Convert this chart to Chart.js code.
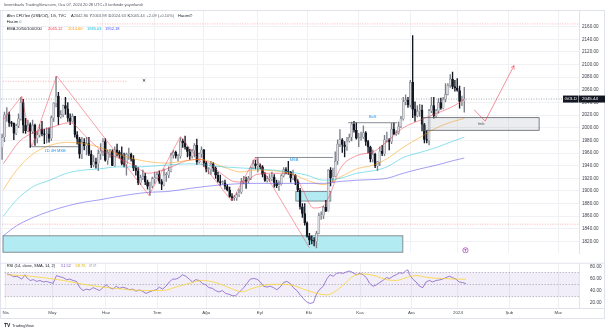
<!DOCTYPE html>
<html><head><meta charset="utf-8">
<title>GOLD 1G</title>
<script src="https://cdn.jsdelivr.net/npm/chart.js@4.4.1/dist/chart.umd.min.js"></script>
<style>
html,body{margin:0;padding:0;background:#fff}
body{width:605px;height:332px;position:relative;overflow:hidden;font-family:"Liberation Sans",Arial,sans-serif}
canvas{position:absolute;left:0}
#c1{top:0}
#c2{top:258px}
#frame{position:absolute;left:0;top:10px;width:603px;height:307px;border:1px solid #e0e3eb}
.t{position:absolute;white-space:nowrap;font-size:4px;line-height:5px;color:#131722}
</style></head><body>
<div id="frame"></div>
<canvas id="c1" width="605" height="259"></canvas>
<canvas id="c2" width="605" height="62"></canvas>

<div class="t" style="left:4px;top:2px;color:#50535e">leventbuzlu TradingView.com, Oca 07, 2024 20:28 UTC+3 tarihinde yayınlandı</div>
<div class="t" style="left:6.7px;top:12.5px">Altın CFD'leri (US$/OZ), 1G, TVC</div>
<div class="t" style="left:71px;top:12.5px">A<span style="color:#5d606b">2042.80</span></div>
<div class="t" style="left:89.5px;top:12.5px">Y<span style="color:#5d606b">2063.98</span></div>
<div class="t" style="left:108.5px;top:12.5px">D<span style="color:#5d606b">2024.63</span></div>
<div class="t" style="left:127.5px;top:12.5px">K<span style="color:#5d606b">2045.44</span></div>
<div class="t" style="left:146.5px;top:12.5px;color:#5d606b">+2.09 (+0.10%)</div>
<div class="t" style="left:178px;top:12.5px">Hacim∅</div>
<div class="t" style="left:6.7px;top:18.5px">Hacim <span style="color:#26a69a">0</span></div>
<div class="t" style="left:6.7px;top:25.8px">EMA 20/50/100/200</div>
<div class="t" style="left:48px;top:25.8px;color:#f23645">2045.12</div>
<div class="t" style="left:68px;top:25.8px;color:#ff9800">2014.60</div>
<div class="t" style="left:87px;top:25.8px;color:#00bcd4">1985.03</div>
<div class="t" style="left:105px;top:25.8px;color:#3f51ff">1952.18</div>
<div class="t" style="left:6.7px;top:263px">RSI (14, close, SMA, 14, 2)</div>
<div class="t" style="left:61px;top:263px;color:#7e57c2">51.52</div>
<div class="t" style="left:75.5px;top:263px;color:#e0b400">58.76</div>
<div class="t" style="left:89px;top:263px;color:#787b86">∅ ∅</div>
<div class="t" style="left:4px;top:323px;font-weight:bold;font-size:5px">TV</div>
<div class="t" style="left:12px;top:323px;color:#2a2e39">TradingView</div>

<script>
// ---- candles (TVC GOLD, daily) Apr 3 2023 .. Jan 5 2024, index = trading bar ----
const open = [
1969,1985,2020,2021,2008,2007,1991,2003,2014,2040,2004,1995,2005,1994,2004,1983,1989,1998,1990,1989,
1990,1983,2016,2039,2050,2017,2021,2035,2030,2015,2010,2018,1989,1982,1958,1977,1971,1975,1958,1941,1946,1943,1959,
1963,1978,1948,1961,1963,1940,1965,1961,1957,1943,1942,1958,1958,1950,1936,1932,1913,1921,1923,1914,1907,1908,
1919,1921,1926,1915,1910,1925,1925,1932,1957,1961,1955,1955,1979,1976,1969,1962,1955,1964,1972,1946,1959,
1965,1944,1934,1934,1943,1936,1925,1915,1913,1913,1907,1901,1891,1889,1889,1894,1898,1915,1917,1915,1920,1937,1943,
1940,1940,1938,1926,1916,1919,1919,1922,1913,1908,1910,1924,1934,1931,1930,1920,1925,1915,1901,1875,1864,
1849,1828,1822,1821,1820,1833,1861,1861,1874,1868,1933,1920,1923,1947,1974,1981,1973,1970,1979,1985,2006,1996,
1983,1983,1985,1992,1978,1969,1950,1958,1940,1946,1963,1959,1981,1981,1978,1998,1990,1992,2002,2014,2041,2044,
2036,2072,2029,2019,2026,2028,2005,1981,1980,2027,2035,2019,2027,2040,2031,2045,2053,2067,2077,2065,
2063,2059,2041,2042.80];
const high = [
1990,2025,2032,2025,2010,2008,2006,2022,2048,2045,2015,2012,2008,2012,2006,1994,2005,2010,1998,2000,
2000,2019,2040,2081,2056,2027,2036,2048,2040,2022,2022,2018,1994,1985,1985,1983,1985,1985,1964,1956,1952,1965,1975,
1983,1983,1965,1966,1965,1970,1974,1964,1970,1960,1960,1968,1960,1956,1940,1937,1925,1933,1928,1917,1914,1922,
1930,1930,1932,1918,1935,1929,1938,1960,1964,1963,1958,1984,1982,1987,1970,1966,1966,1975,1982,1960,1970,
1966,1947,1937,1947,1945,1938,1930,1925,1916,1917,1910,1906,1896,1893,1897,1903,1920,1923,1922,1923,1938,1949,1949,
1953,1943,1940,1929,1923,1926,1930,1926,1917,1916,1926,1937,1937,1947,1931,1933,1926,1918,1904,1880,1880,
1851,1833,1829,1826,1836,1865,1867,1876,1885,1934,1937,1936,1962,1981,1997,1983,1978,1985,1990,2009,2010,2008,
1991,1993,2003,1994,1980,1971,1965,1960,1947,1970,1972,1988,1993,1983,2007,2008,1995,2009,2018,2048,2052,2048,
2075,2146,2041,2035,2037,2036,2007,1996,2029,2048,2048,2029,2046,2047,2048,2070,2070,2084,2088,2075,
2078,2066,2050,2063.98];
const low = [
1950,1978,2010,2002,2002,1981,1989,2000,2012,1992,1991,1994,1969,1991,1972,1976,1985,1987,1975,1976,
1977,1980,2010,2033,2005,2015,2017,2021,2010,2005,2009,1985,1974,1952,1951,1965,1957,1956,1937,1938,1936,1932,1950,
1956,1947,1942,1953,1940,1939,1955,1952,1941,1938,1925,1950,1947,1932,1925,1910,1910,1918,1910,1903,1893,1905,
1912,1919,1912,1902,1908,1915,1921,1930,1952,1952,1947,1952,1969,1966,1954,1950,1952,1954,1942,1944,1953,
1939,1930,1927,1926,1931,1920,1914,1909,1911,1903,1900,1890,1885,1885,1885,1891,1896,1911,1904,1913,1918,1935,1935,
1930,1935,1922,1915,1914,1915,1916,1906,1905,1901,1909,1922,1927,1926,1914,1918,1910,1899,1871,1858,1846,
1827,1815,1816,1813,1810,1832,1855,1856,1867,1868,1908,1914,1922,1942,1970,1961,1954,1964,1977,1979,1993,1982,
1970,1980,1983,1972,1960,1946,1946,1937,1932,1940,1956,1956,1977,1965,1975,1989,1988,1990,2000,2012,2036,2032,
2033,2016,2010,2017,2018,1995,1976,1976,1973,2024,2015,2016,2023,2029,2030,2041,2052,2064,2062,2058,
2058,2031,2035,2024.63];
const close = [
1985,2020,2021,2008,2007,1991,2003,2014,2040,2004,1995,2005,1994,2004,1983,1989,1998,1990,1989,1990,
1983,2016,2039,2050,2017,2021,2035,2030,2015,2010,2018,1989,1982,1958,1977,1971,1975,1958,1941,1946,1943,1959,1963,
1978,1948,1961,1963,1940,1965,1961,1957,1943,1942,1958,1958,1950,1936,1932,1913,1921,1923,1914,1907,1908,1919,
1921,1926,1915,1910,1925,1925,1932,1957,1961,1955,1955,1979,1976,1969,1962,1955,1964,1972,1946,1959,1965,
1944,1934,1934,1943,1936,1925,1915,1913,1913,1907,1901,1891,1889,1889,1894,1898,1915,1917,1915,1920,1937,1943,1940,
1940,1938,1926,1916,1919,1919,1922,1913,1908,1910,1924,1934,1931,1930,1920,1925,1915,1901,1875,1864,1849,
1828,1822,1821,1820,1833,1861,1861,1874,1868,1933,1920,1923,1947,1974,1981,1973,1970,1979,1985,2006,1996,1983,
1983,1985,1992,1978,1969,1950,1958,1940,1946,1963,1959,1981,1981,1978,1998,1990,1992,2002,2014,2041,2044,2036,
2072,2029,2019,2026,2028,2005,1981,1980,2027,2035,2019,2027,2040,2031,2045,2053,2067,2077,2065,2063,
2059,2041,2043,2045.44];

// ---- EMA readings [bar index, price] ----
const ema20 = [[0.5,1943],[7.6,1979],[13.3,1992],[20.4,2000],[28.9,2008],[36,1985],[41.7,1966],[48.9,1953],[55.9,1941],[62.3,1928],[70.2,1935],[78.7,1948],[84.4,1950],[94.3,1925],[98.6,1915],[102.8,1914],[108.5,1926],[115.6,1928],[122.7,1928],[125.6,1920],[128.4,1900],[132.7,1873],[136.9,1876],[139.8,1895],[144.1,1935],[151.2,1956],[158.3,1962],[164,1978],[171,2000],[178.2,2012],[185.3,2023],[192.3,2034],[197,2045.12]];
const ema50 = [[0.5,1902],[6.2,1933],[13.3,1959],[20.4,1972],[27.5,1977],[34.6,1975],[41.7,1969],[48.9,1959],[55.9,1951],[63,1946],[70.2,1944],[78.7,1948],[84.4,1950],[94.3,1938],[101.4,1930],[108.5,1933],[115.6,1932],[122.7,1928],[129.9,1917],[136.9,1910],[144.1,1922],[151.2,1935],[158.3,1941],[164,1951],[171,1969],[178.2,1985],[185.3,2000],[192.3,2010],[197,2014.6]];
const ema100 = [[0.5,1860],[6.2,1886],[13.3,1907],[20.4,1917],[27.5,1928],[34.6,1933],[41.7,1935],[48.9,1938],[55.9,1938],[63,1939],[70.2,1941],[80.1,1943],[94.3,1938],[108.5,1935],[122.7,1930],[129.9,1925],[136.9,1917],[144.1,1920],[151.2,1928],[158.3,1932],[164,1938],[171,1953],[178.2,1961],[185.3,1969],[192.3,1979],[197,1985.03]];
const ema200 = [[0.5,1829],[6.2,1845],[13.3,1858],[20.4,1868],[27.5,1876],[34.6,1882],[41.7,1886],[48.9,1891],[55.9,1895],[63,1898],[70.2,1899],[80.1,1904],[94.3,1910],[108.5,1912],[122.7,1912],[136.9,1912],[144.1,1915],[151.2,1917],[158.3,1918],[164,1920],[171,1928],[178.2,1935],[185.3,1941],[192.3,1948],[197,1952.18]];

// ---- RSI readings [bar index, value] ----
const rsi = [[0.5,67.6],[2,66.2],[3.4,62.9],[4.8,63.8],[6.9,59],[8.3,66.2],[9,61.4],[10.5,56.7],[11.9,58.1],[13.3,55.2],[14.7,56.7],[16.2,54.3],[17.6,55.2],[19,53.3],[20.4,51.9],[21.1,59],[21.8,64.8],[23.3,62.9],[24.7,61.4],[26.1,58.1],[27.5,59],[28.9,56.7],[30.4,55.2],[31.8,44.8],[33.2,40],[34.6,42.4],[36.1,41],[37.5,44.8],[38.9,42.4],[40.3,40],[41.7,44.8],[43.1,49.5],[44.6,44.8],[46,42.4],[47.4,47.1],[48.9,43.8],[50.3,45.7],[51.7,43.8],[53.1,41.4],[54.5,42.4],[55.9,39],[57.4,41],[58.8,38.6],[60.2,35.2],[61.6,37.6],[63.1,40],[64.5,41],[65.9,45.7],[67.3,42.4],[68.7,47.1],[70.2,54.3],[71.6,59],[73,59],[74.4,61.4],[75.8,66.2],[77.3,63.8],[78.7,59],[80.1,54.3],[81.5,58.1],[83,56.7],[84.4,51.9],[85.8,49.5],[87.2,44.8],[88.6,43.8],[90,40],[91.5,37.6],[92.9,40],[94.3,35.2],[95.8,33.8],[97.2,31.4],[98.6,31.4],[100,36.5],[101.4,42],[102.1,44.8],[103.5,51.9],[104.9,59],[106.4,60],[107.8,59],[109.2,54.3],[110.6,47.1],[112.1,45.7],[113.5,47.1],[114.9,44.8],[116.3,41.4],[117.7,45.7],[119.2,53.3],[120.6,55.2],[122,51.9],[123.4,44.8],[124.9,40],[126.3,32.9],[127.7,26.7],[129.1,21],[130.5,18.6],[132,20],[133.4,35.2],[134.8,42.4],[136.2,47.1],[137.7,59],[139.1,66.2],[140.5,63.8],[141.9,68.6],[143.3,69.5],[144.8,68.6],[146.2,71],[147.6,72.4],[149,69.5],[150.5,66.2],[151.9,68.6],[153.3,66.2],[154.7,61.4],[156.1,51.9],[157.6,47.1],[159,49.5],[160.4,53.3],[161.8,56.7],[163.3,61.4],[164.7,60],[166.1,63.8],[167.5,66.2],[168.9,69.5],[170.4,68.6],[171.8,73.3],[172.5,74.3],[173.2,66.2],[174.6,59],[176,54.3],[177.5,47.1],[178.9,44.8],[180.3,54.3],[181.7,56.7],[183.1,54.3],[184.6,56.7],[186,57.6],[187.4,59],[188.8,61.4],[190.3,63.8],[191.7,61.4],[193.1,59],[194.5,54.3],[195.9,53.3],[197.4,51.52]];
const rsiSma = [[0.5,66.2],[7.6,64.8],[16.2,61.4],[24.7,56.7],[33.2,50.5],[41.7,45.7],[50.3,42.4],[58.8,40],[67.3,40],[73,45.7],[78.7,51.9],[84.4,56.7],[90,53.3],[95.8,44.8],[101.5,38],[104.9,42.4],[110.6,48.6],[116.3,50.5],[122,49.5],[127.7,42.4],[133.4,35.2],[137.7,32.9],[141.9,40],[146.2,54.3],[149,63.8],[153.3,67.6],[159,63.8],[163.3,58.1],[167.5,56.7],[171.8,61.4],[176,64.8],[181.7,61.4],[187.4,60],[193.1,59],[197.4,58.76]];
const rsiLevels = [70, 50, 30];

// ---- axis labels ----
const monthIdx = [0,20,43,65,86,109,130,152,174,194,216,237];
const monthLbl = ['Nis','May','Haz','Tem','Ağu','Eyl','Eki','Kas','Ara','2024','Şub','Mar'];
const priceTicks = [1820,1840,1860,1880,1900,1920,1940,1960,1980,2000,2020,2040,2060,2080,2100,2120,2140,2160];
const rsiTicks = [20,40,60,80];

// ---- drawings [bar index, price] ----
const zigzag = [[0.5,2013],[8.4,2050],[12.6,1970],[23.3,2082],[62.6,1893],[76,1986],[97.9,1884],[108,1953],[131,1810]];
const cyanBoxes = [[0.4,170.8,1829,1803],[125.2,140.1,1899,1884]];
const imbBox = [179.4,228.9,2016,1996];
const structLines = [ // [from, to, price, label, labelPrice]
  [12.6,32.5,1970,'1D 4H MSB',1963],
  [107.8,141.1,1953,'MSB',1948.5],
  [147.5,168.4,2008,'BoS',2016.5]];
const redDotted = [[40.5,246,2164.3],[0.4,53.7,2073.5],[-1,246,1847.4]];
const crossMark = [60.5,2075];
const arrowPath = [[201.2,2028.5],[205.9,2010.5],[218.2,2098.4]];
const eventMark = [197.5,1806];
const lastPrice = 2045.44;
const symbol = 'GOLD';

const X_MIN = -0.47, X_MAX = 245.9;
const FONT = '"Liberation Sans", Arial, sans-serif';

const N = open.length;
const wick = [], body = [], wickCol = [], bodyCol = [], bodyBorder = [];
for (let i = 0; i < N; i++) {
  wick.push({x: i, y: [low[i], high[i]]});
  body.push({x: i, y: [open[i], close[i]]});
  const up = close[i] >= open[i];
  wickCol.push(up ? '#7b7e88' : '#131722');
  bodyCol.push(up ? '#dcdde2' : '#131722');
  bodyBorder.push(up ? '#70737d' : '#131722');
}
const toXY = a => a.map(p => ({x: p[0], y: p[1]}));

const annot = {
  id: 'annot',
  beforeDatasetsDraw(chart) {
    const {ctx, chartArea: a, scales: {x, y}} = chart;
    ctx.save();
    ctx.beginPath(); ctx.rect(a.left, a.top, a.right - a.left, a.bottom - a.top); ctx.clip();
    for (const b of cyanBoxes) {
      const x0 = x.getPixelForValue(b[0]), x1 = x.getPixelForValue(b[1]);
      const y0 = y.getPixelForValue(b[2]), y1 = y.getPixelForValue(b[3]);
      ctx.fillStyle = '#b2ebf2'; ctx.fillRect(x0, y0, x1 - x0, y1 - y0);
      ctx.strokeStyle = '#7d828c'; ctx.lineWidth = 0.9; ctx.strokeRect(x0, y0, x1 - x0, y1 - y0);
    }
    ctx.lineWidth = 0.7;
    ctx.setLineDash([1, 1.5]);
    for (const l of redDotted) {
      const yy = y.getPixelForValue(l[2]);
      ctx.strokeStyle = 'rgba(242,54,69,0.55)';
      ctx.beginPath(); ctx.moveTo(x.getPixelForValue(l[0]), yy); ctx.lineTo(x.getPixelForValue(l[1]), yy); ctx.stroke();
    }
    const yl = y.getPixelForValue(lastPrice);
    ctx.strokeStyle = 'rgba(80,83,94,0.7)';
    ctx.beginPath(); ctx.moveTo(a.left, yl); ctx.lineTo(a.right, yl); ctx.stroke();
    ctx.setLineDash([]);
    ctx.restore();
  },
  afterDatasetsDraw(chart) {
    const {ctx, chartArea: a, scales: {x, y}} = chart;
    const px = v => x.getPixelForValue(v), py = v => y.getPixelForValue(v);
    ctx.save();
    ctx.beginPath(); ctx.rect(a.left, a.top, a.right - a.left, a.bottom - a.top); ctx.clip();
    ctx.strokeStyle = 'rgba(242,54,69,0.6)'; ctx.lineWidth = 0.8;
    ctx.beginPath();
    zigzag.forEach((p, k) => { k ? ctx.lineTo(px(p[0]), py(p[1])) : ctx.moveTo(px(p[0]), py(p[1])); });
    ctx.stroke();
    ctx.font = '4px ' + FONT; ctx.textAlign = 'center'; ctx.textBaseline = 'middle';
    for (const s of structLines) {
      ctx.strokeStyle = '#6a6d78'; ctx.lineWidth = 0.8;
      ctx.beginPath(); ctx.moveTo(px(s[0]), py(s[2])); ctx.lineTo(px(s[1]), py(s[2])); ctx.stroke();
      ctx.fillStyle = '#2196f3';
      ctx.fillText(s[3], px((s[0] + s[1]) / 2), py(s[4]));
    }
    {
      const x0 = px(imbBox[0]), x1 = px(imbBox[1]), y0 = py(imbBox[2]), y1 = py(imbBox[3]);
      ctx.fillStyle = 'rgba(150,155,165,0.18)'; ctx.fillRect(x0, y0, x1 - x0, y1 - y0);
      ctx.strokeStyle = '#5d606b'; ctx.lineWidth = 0.8; ctx.strokeRect(x0, y0, x1 - x0, y1 - y0);
      ctx.fillStyle = '#5d606b';
      ctx.fillText('Imb', (x0 + x1) / 2, (y0 + y1) / 2);
    }
    ctx.strokeStyle = 'rgba(242,54,69,0.7)'; ctx.lineWidth = 0.8;
    ctx.beginPath();
    arrowPath.forEach((p, k) => { k ? ctx.lineTo(px(p[0]), py(p[1])) : ctx.moveTo(px(p[0]), py(p[1])); });
    ctx.stroke();
    {
      const n = arrowPath.length, t = arrowPath[n - 1], s = arrowPath[n - 2];
      const tx = px(t[0]), ty = py(t[1]);
      const ang = Math.atan2(ty - py(s[1]), tx - px(s[0]));
      ctx.beginPath();
      ctx.moveTo(tx - 4 * Math.cos(ang - 0.5), ty - 4 * Math.sin(ang - 0.5));
      ctx.lineTo(tx, ty);
      ctx.lineTo(tx - 4 * Math.cos(ang + 0.5), ty - 4 * Math.sin(ang + 0.5));
      ctx.stroke();
    }
    {
      const cx = px(crossMark[0]), cy = py(crossMark[1]);
      ctx.strokeStyle = '#131722'; ctx.lineWidth = 0.7;
      ctx.beginPath(); ctx.moveTo(cx - 1.2, cy - 1.2); ctx.lineTo(cx + 1.2, cy + 1.2);
      ctx.moveTo(cx + 1.2, cy - 1.2); ctx.lineTo(cx - 1.2, cy + 1.2); ctx.stroke();
    }
    {
      const cx = px(eventMark[0]), cy = py(eventMark[1]);
      ctx.strokeStyle = '#ab47bc'; ctx.lineWidth = 0.8;
      ctx.beginPath(); ctx.arc(cx, cy, 2.6, 0, Math.PI * 2); ctx.stroke();
      ctx.beginPath(); ctx.moveTo(cx, cy + 1.3); ctx.lineTo(cx, cy - 1.3); ctx.moveTo(cx - 1, cy - 0.3); ctx.lineTo(cx, cy - 1.3); ctx.lineTo(cx + 1, cy - 0.3); ctx.stroke();
    }
    ctx.restore();
  },
  afterDraw(chart) {
    const {ctx, chartArea: a, scales: {y}} = chart;
    const yy = y.getPixelForValue(lastPrice);
    ctx.save();
    ctx.fillStyle = '#131722';
    ctx.fillRect(a.right - 16, yy - 3.5, 15.5, 7);
    ctx.fillRect(a.right, yy - 3.5, chart.width - a.right, 7);
    ctx.fillStyle = '#fff'; ctx.font = '4.4px ' + FONT; ctx.textBaseline = 'middle'; ctx.textAlign = 'left';
    ctx.fillText(symbol, a.right - 14.5, yy + 0.2);
    ctx.fillText(lastPrice.toFixed(2), a.right + 3, yy + 0.2);
    ctx.restore();
  }
};

const emaDs = (arr, col) => ({type: 'line', data: toXY(arr), borderColor: col, borderWidth: 1, pointRadius: 0,
  cubicInterpolationMode: 'monotone', order: 0});

new Chart(document.getElementById('c1'), {
  type: 'bar',
  data: {datasets: [
    emaDs(ema200, 'rgba(90,80,235,0.55)'),
    emaDs(ema100, 'rgba(0,188,212,0.45)'),
    emaDs(ema50, 'rgba(255,152,0,0.5)'),
    emaDs(ema20, 'rgba(242,54,69,0.5)'),
    {type: 'bar', data: body, backgroundColor: bodyCol, borderColor: bodyBorder, borderWidth: 0.5,
      barThickness: 2, grouped: false, minBarLength: 0.8, order: 1},
    {type: 'bar', data: wick, backgroundColor: wickCol, barThickness: 0.7, grouped: false, order: 2}
  ]},
  options: {
    responsive: false, animation: false, events: [],
    layout: {padding: {left: 1, right: 0, top: 11, bottom: 1}},
    plugins: {legend: {display: false}, tooltip: {enabled: false}},
    scales: {
      x: {type: 'linear', min: X_MIN, max: X_MAX, offset: false,
        grid: {color: '#eff1f5', drawTicks: false, offset: false}, border: {display: false},
        ticks: {display: false},
        afterBuildTicks: s => { s.ticks = monthIdx.map(v => ({value: v})); },
        afterFit: s => { s.height = 0; }},
      y: {type: 'linear', position: 'right', min: 1801.4, max: 2184.8,
        grid: {color: '#eff1f5', drawTicks: false}, border: {color: '#e0e3eb'},
        ticks: {color: '#3d404b', font: {size: 4.6, family: FONT}, padding: 3, callback: v => v.toFixed(2)},
        afterBuildTicks: s => { s.ticks = priceTicks.map(v => ({value: v})); },
        afterFit: s => { s.width = 26; }}
    }
  },
  plugins: [annot]
});

const rsiBand = {
  id: 'rsiBand',
  beforeDatasetsDraw(chart) {
    const {ctx, chartArea: a, scales: {y}} = chart;
    const y70 = y.getPixelForValue(rsiLevels[0]), y30 = y.getPixelForValue(rsiLevels[2]);
    ctx.save();
    ctx.fillStyle = 'rgba(126,87,194,0.1)';
    ctx.fillRect(a.left, y70, a.right - a.left, y30 - y70);
    ctx.strokeStyle = 'rgba(120,123,134,0.8)'; ctx.lineWidth = 0.6; ctx.setLineDash([1.5, 1.5]);
    for (const l of rsiLevels) {
      const yy = y.getPixelForValue(l);
      ctx.beginPath(); ctx.moveTo(a.left, yy); ctx.lineTo(a.right, yy); ctx.stroke();
    }
    ctx.setLineDash([]);
    ctx.strokeStyle = '#e0e3eb'; ctx.lineWidth = 1;
    ctx.beginPath(); ctx.moveTo(0, a.top - 0.5); ctx.lineTo(chart.width, a.top - 0.5);
    ctx.moveTo(0, a.bottom + 0.5); ctx.lineTo(chart.width, a.bottom + 0.5); ctx.stroke();
    ctx.restore();
  }
};

new Chart(document.getElementById('c2'), {
  type: 'line',
  data: {datasets: [
    {data: toXY(rsiSma), borderColor: 'rgba(250,212,40,0.75)', borderWidth: 1, pointRadius: 0, cubicInterpolationMode: 'monotone'},
    {data: toXY(rsi), borderColor: 'rgba(126,87,194,0.75)', borderWidth: 1, pointRadius: 0, tension: 0}
  ]},
  options: {
    responsive: false, animation: false, events: [],
    layout: {padding: {left: 1, right: 0, top: 1, bottom: 0}},
    plugins: {legend: {display: false}, tooltip: {enabled: false}},
    scales: {
      x: {type: 'linear', min: X_MIN, max: X_MAX, offset: false,
        grid: {color: '#eff1f5', drawTicks: false}, border: {display: false},
        ticks: {color: '#434651', font: {size: 4.4, family: FONT}, padding: 2.5, autoSkip: false, maxRotation: 0,
          callback: v => { const k = monthIdx.indexOf(v); return k >= 0 ? monthLbl[k] : ''; }},
        afterBuildTicks: s => { s.ticks = monthIdx.map(v => ({value: v})); },
        afterFit: s => { s.height = 12; }},
      y: {type: 'linear', position: 'right', min: 11, max: 84.5,
        grid: {display: false}, border: {color: '#e0e3eb'},
        ticks: {color: '#3d404b', font: {size: 4.6, family: FONT}, padding: 3, callback: v => v.toFixed(2)},
        afterBuildTicks: s => { s.ticks = rsiTicks.map(v => ({value: v})); },
        afterFit: s => { s.width = 26; }}
    }
  },
  plugins: [rsiBand]
});
</script>
</body></html>
